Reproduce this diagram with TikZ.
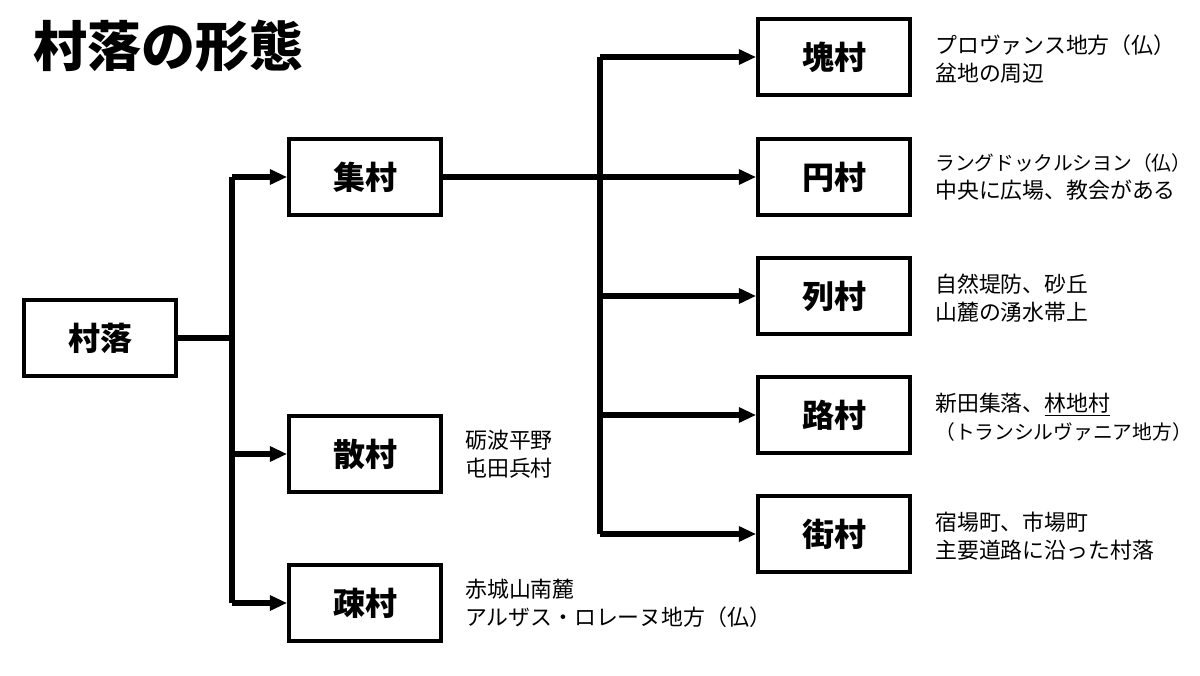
\documentclass[tikz,border=0pt]{standalone}
\usepackage{fontspec}
\setmainfont{Noto Sans CJK JP}
\usetikzlibrary{arrows.meta}

\tikzset{
  box/.style={draw,line width=2.8pt,minimum width=114pt,minimum height=57pt,inner sep=0pt,
    font=\bfseries\fontsize{24}{28}\selectfont},
  note/.style={anchor=west,align=left,inner sep=0pt,font=\fontsize{16.4}{21}\selectfont},
  link/.style={line width=4.2pt},
  arrow/.style={link,-{Triangle[length=13pt,width=11pt]}}
}
\newcommand\smallnote{\fontsize{14.8}{21}\selectfont}

\begin{document}
\begin{tikzpicture}[x=0.75pt,y=-0.75pt]
    \useasboundingbox (0,0) rectangle (1200,675);
    \node[anchor=west,inner sep=0pt,font=\bfseries\fontsize{40.5}{44}\selectfont] (title) at (33,46) {村落の形態};

    % left tree
    \node[box] (sonraku) at (100,338) {村落};
    \node[box] (shuu) at (365,177) {集村};
    \node[box] (san) at (365,454) {散村};
    \node[box] (so) at (365,603) {疎村};
    \coordinate (j1) at (232,338);

    % right tree
    \node[box] (kai) at (834,57) {塊村};
    \node[box] (en) at (834,177) {円村};
    \node[box] (retsu) at (834,296) {列村};
    \node[box] (ro) at (834,415) {路村};
    \node[box] (gai) at (834,534) {街村};
    \coordinate (j2) at (600,177);

    % notes
    \node[note] (nkai) at (935,59) {プロヴァンス地方（仏）\\盆地の周辺};
    \node[note] (nen) at (935,177) {{\smallnote ラングドックルシヨン（仏）}\\中央に広場、教会がある};
    \node[note] (nretsu) at (935,298) {自然堤防、砂丘\\山麓の湧水帯上};
    \node[note] (nro) at (935,417) {新田集落、\underline{林地村}\\{\smallnote（トランシルヴァニア地方）}};
    \node[note] (ngai) at (935,536) {宿場町、市場町\\主要道路に沿った村落};
    \node[note] (nsan) at (465,454) {砺波平野\\屯田兵村};
    \node[note] (nso) at (465,603) {赤城山南麓\\アルザス・ロレーヌ地方（仏）};

    % connectors
    \draw[link] (sonraku.east) -- (j1);
    \draw[link] (j1 |- shuu) -- (j1 |- so);
    \foreach \n in {shuu,san,so}
        \draw[arrow] (j1 |- \n) -- (\n.west);
    \draw[link] (shuu.east) -- (j2);
    \draw[link] (j2 |- kai) -- (j2 |- gai);
    \foreach \n in {kai,en,retsu,ro,gai}
        \draw[arrow] (j2 |- \n) -- (\n.west);
\end{tikzpicture}
\end{document}
